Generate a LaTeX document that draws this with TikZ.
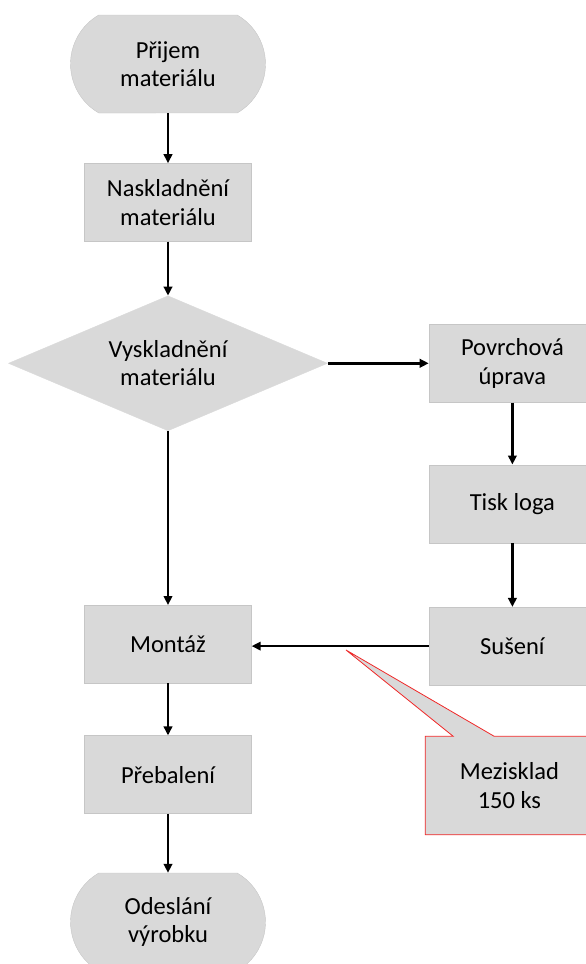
\documentclass[tikz,border=0pt]{standalone}
\usepackage{fontspec}
\setmainfont{Carlito}
\usepackage{xcolor}
\usepackage{tikz}
\usetikzlibrary{positioning}
\usetikzlibrary{calc}
\usetikzlibrary{arrows.meta}
\usetikzlibrary{shapes.geometric}
\usetikzlibrary{shapes.misc}

\definecolor{BoxGray}{HTML}{D9D9D9}
\definecolor{EdgeGray}{HTML}{C6C6C6}
\definecolor{CalloutRed}{HTML}{F02828}

\tikzset{
	label font/.style={font=\fontsize{24.5}{28.5}\selectfont, align=center},
	process/.style={
		draw=EdgeGray,
		fill=BoxGray,
		minimum width=167pt,
		minimum height=78pt,
		inner sep=0pt,
		label font
	},
	terminal/.style={
		rounded rectangle,
		rounded rectangle arc length=120,
		draw=EdgeGray,
		fill=BoxGray,
		minimum width=195pt,
		minimum height=98pt,
		inner sep=0pt,
		label font
	},
	decision/.style={
		diamond,
		aspect=2.4,
		draw=BoxGray,
		fill=BoxGray,
		minimum width=319pt,
		minimum height=135pt,
		inner sep=0pt,
		label font
	},
	flow/.style={line width=2.6pt, -{Triangle[length=9pt, width=8.5pt]}}
}

\begin{document}
\begin{tikzpicture}[x=1pt, y=1pt]

	\clip (0,0) rectangle (586,-964);
	\useasboundingbox (0,0) rectangle (586,-964);

	% left column
	\node[terminal] (prijem) at (168,-64) {Přijem\\materiálu};

	\node[
		process,
		below=50pt of prijem
	] (naskladneni) {Naskladnění\\materiálu};

	\node[
		decision,
		below=54pt of naskladneni
	] (vyskladneni) {Vyskladnění\\materiálu};

	\node[
		process,
		below=174pt of vyskladneni
	] (montaz) {Montáž};

	\node[
		process,
		below=52pt of montaz
	] (prebaleni) {Přebalení};

	\node[
		terminal,
		below=59pt of prebaleni
	] (odeslani) {Odeslání\\výrobku};

	% right column
	\node[
		process,
		right=101pt of vyskladneni
	] (povrchova) {Povrchová\\úprava};

	\node[
		process,
		below=62pt of povrchova
	] (tisk) {Tisk loga};

	\node[
		process,
		below=64pt of tisk
	] (suseni) {Sušení};

	% callout
	\node[
		fill=BoxGray,
		minimum width=168pt,
		minimum height=98pt,
		inner sep=0pt,
		label font,
		below=51pt of suseni,
		xshift=-3pt
	] (mezisklad) {Mezisklad\\150 ks};

	\coordinate (calloutTip) at (346,-650);
	\draw[CalloutRed, line width=0.8pt, fill=BoxGray]
		(mezisklad.north west) -- ([xshift=28pt]mezisklad.north west)
		-- (calloutTip) -- ([xshift=69pt]mezisklad.north west)
		-- (mezisklad.north east) -- (mezisklad.south east)
		-- (mezisklad.south west) -- cycle;
	\node[label font] at (mezisklad) {Mezisklad\\150 ks};

	% connectors
	\draw[flow] (prijem.south) -- (naskladneni.north);
	\draw[flow] (naskladneni.south) -- (vyskladneni.north);
	\draw[flow] (vyskladneni.east) -- (povrchova.west);
	\draw[flow] (vyskladneni.south) -- (montaz.north);
	\draw[flow] (povrchova.south) -- (tisk.north);
	\draw[flow] (tisk.south) -- (suseni.north);
	\draw[flow, line width=2pt] (suseni.west) -- (suseni.west -| montaz.east);
	\draw[flow] (montaz.south) -- (prebaleni.north);
	\draw[flow] (prebaleni.south) -- (odeslani.north);

\end{tikzpicture}
\end{document}
